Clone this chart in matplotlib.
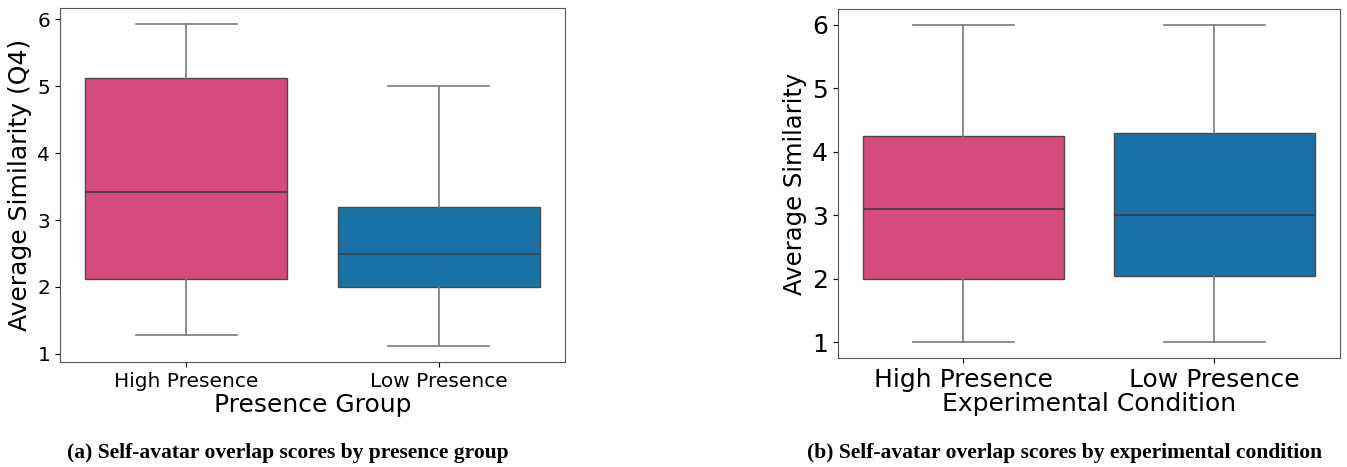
import matplotlib.pyplot as plt

# Box statistics
groups = ["High Presence", "Low Presence"]

# (a) presence group, Q4 similarity
a_low_whisker = [1.28, 1.12]
a_q1 = [2.12, 2.0]
a_median = [3.42, 2.5]
a_q3 = [5.13, 3.2]
a_high_whisker = [5.93, 5.0]

# (b) experimental condition
b_low_whisker = [1.0, 1.0]
b_q1 = [2.0, 2.05]
b_median = [3.1, 3.0]
b_q3 = [4.25, 4.3]
b_high_whisker = [6.0, 6.0]

colors = ["#d64b7d", "#1971a7"]


def make_stats(lo, q1, med, q3, hi):
    return [dict(label=g, whislo=lo[i], q1=q1[i], med=med[i], q3=q3[i], whishi=hi[i], fliers=[])
            for i, g in enumerate(groups)]


def draw(ax, stats, tick_size):
    bp = ax.bxp(stats, positions=range(len(stats)), widths=0.8, patch_artist=True,
                showfliers=False, manage_ticks=False,
                boxprops=dict(edgecolor="#4a4a4a", linewidth=1.0),
                medianprops=dict(color="#3d3d3d", linewidth=1.2),
                whiskerprops=dict(color="#7a7a7a", linewidth=1.2),
                capprops=dict(color="#7a7a7a", linewidth=1.2))
    for patch, c in zip(bp["boxes"], colors):
        patch.set_facecolor(c)
    ax.set_xlim(-0.5, len(stats) - 0.5)
    ax.set_xticks(range(len(stats)))
    ax.set_xticklabels(groups)
    ax.tick_params(labelsize=tick_size)
    for s in ax.spines.values():
        s.set_color("#555555")
    ax.margins(y=0.05)


fig = plt.figure(figsize=(13.47, 4.67), dpi=100)

ax1 = fig.add_axes([0.0445, 0.225, 0.375, 0.758])
draw(ax1, make_stats(a_low_whisker, a_q1, a_median, a_q3, a_high_whisker), 14.5)
ax1.set_ylabel("Average Similarity (Q4)", fontsize=18)
ax1.set_xlabel("Presence Group", fontsize=18, labelpad=2)

ax2 = fig.add_axes([0.622, 0.233, 0.3728, 0.748])
draw(ax2, make_stats(b_low_whisker, b_q1, b_median, b_q3, b_high_whisker), 18)
ax2.set_ylabel("Average Similarity", fontsize=17.5)
ax2.set_xlabel("Experimental Condition", fontsize=18, labelpad=0)

cap = dict(fontsize=15.5, fontweight="bold", family="Liberation Serif", ha="center", va="center")
fig.text(288 / 1347, 1 - 453 / 467, "(a) Self-avatar overlap scores by presence group", **cap)
fig.text(1065 / 1347, 1 - 453 / 467, "(b) Self-avatar overlap scores by experimental condition", **cap)

fig.savefig("out.png", dpi=100)
